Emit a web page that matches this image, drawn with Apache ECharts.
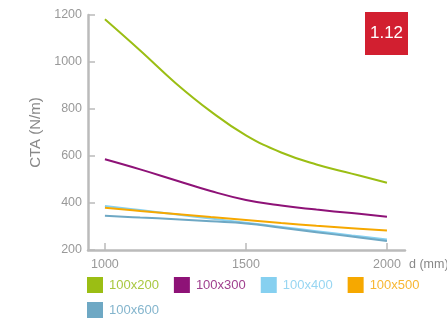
<!DOCTYPE html>
<html>
<head>
<meta charset="utf-8">
<script src="https://cdn.jsdelivr.net/npm/echarts@6/dist/echarts.min.js"></script>
<style>
  html, body { margin: 0; padding: 0; background: #fff; }
  #main { width: 447px; height: 318px; }
</style>
</head>
<body>
<div id="main"></div>
<script>
// distanza d (mm)
var distances = [1000, 1125, 1250, 1375, 1500, 1625, 1750, 1875, 2000];
var xTicks = [1000, 1500, 2000];

var s100x200 = [1182, 1049, 911, 790, 688, 615, 564, 525, 486];
var s100x300 = [586, 543, 497, 451, 413, 389, 372, 357, 342];
var s100x400 = [387, 370, 352, 334, 316, 298, 280, 262, 245];
var s100x500 = [380, 366, 353, 340, 328, 315, 303, 293, 283];
var s100x600 = [346, 338, 331, 322, 313, 295, 276, 257, 238];

var names = ['100x200', '100x300', '100x400', '100x500', '100x600'];
var values = [s100x200, s100x300, s100x400, s100x500, s100x600];
var colors = ['#9bbe14', '#8e1277', '#86d0f0', '#f6a800', '#6ea8c4'];
// testo legenda un po' più chiaro
var textColors = ['#a9c840', '#a0408f', '#98d6f2', '#f7b733', '#84b5cd'];

var font = 'Liberation Sans, Arial, sans-serif';

var chart = echarts.init(document.getElementById('main'));

function pairs(arr) {
  return distances.map(function (d, i) { return [d, arr[i]]; });
}

var series = names.map(function (n, i) {
  return {
    name: n,
    type: 'line',
    smooth: 0.45,
    symbol: 'none',
    data: pairs(values[i]),
    lineStyle: { width: 2, color: colors[i] },
    itemStyle: { color: colors[i] }
  };
});

function legendItems(list) {
  return list.map(function (n) {
    var i = names.indexOf(n);
    return { name: n, textStyle: { color: textColors[i] } };
  });
}

var legendBase = {
  icon: 'rect',
  itemWidth: 16,
  itemHeight: 16,
  itemGap: 15,
  padding: 0,
  orient: 'horizontal',
  textStyle: { fontSize: 13, fontFamily: font, padding: [0, 0, 0, 1] },
  selectedMode: false
};

var option = {
  animation: false,
  grid: { left: 88, right: 42, top: 15, bottom: 68, outerBoundsMode: 'none' },
  legend: [
    Object.assign({}, legendBase, { left: 87, top: 277, data: legendItems(names.slice(0, 4)) }),
    Object.assign({}, legendBase, { left: 87, top: 302, data: legendItems(names.slice(4)) })
  ],
  xAxis: {
    type: 'value',
    min: 940,
    max: 2064,
    name: 'd (mm)',
    nameLocation: 'end',
    nameGap: 4,
    nameTextStyle: { color: '#888', fontSize: 12.5, fontFamily: font, verticalAlign: 'top', padding: [8, 0, 0, 0] },
    axisLine: { lineStyle: { color: '#bbb', width: 2.5 } },
    axisTick: { inside: true, length: 7, customValues: xTicks, lineStyle: { color: '#bbb', width: 1.5 } },
    axisLabel: { customValues: xTicks, margin: 8, color: '#999', fontSize: 12.5, fontFamily: font,
      formatter: function (v) { return String(v); } },
    splitLine: { show: false }
  },
  yAxis: {
    type: 'value',
    min: 200,
    max: 1200,
    interval: 200,
    name: 'CTA (N/m)',
    nameLocation: 'middle',
    nameGap: 44,
    nameTextStyle: { color: '#888', fontSize: 15, fontFamily: font },
    axisLine: { show: true, lineStyle: { color: '#bbb', width: 2.5 } },
    axisTick: { show: true, inside: true, length: 7, lineStyle: { color: '#bbb', width: 1.5 } },
    axisLabel: { margin: 6, color: '#999', fontSize: 12.5, fontFamily: font,
      formatter: function (v) { return String(v); } },
    splitLine: { show: false }
  },
  graphic: [
    {
      type: 'group',
      right: 39,
      top: 12,
      children: [
        { type: 'rect', shape: { x: 0, y: 0, width: 43, height: 43 }, style: { fill: '#d21f30' } },
        { type: 'text', x: 21.5, y: 21.5, style: { text: '1.12', fill: '#fff', fontSize: 17, fontFamily: font, align: 'center', verticalAlign: 'middle' } }
      ]
    }
  ],
  series: series
};

chart.setOption(option);
</script>
</body>
</html>
